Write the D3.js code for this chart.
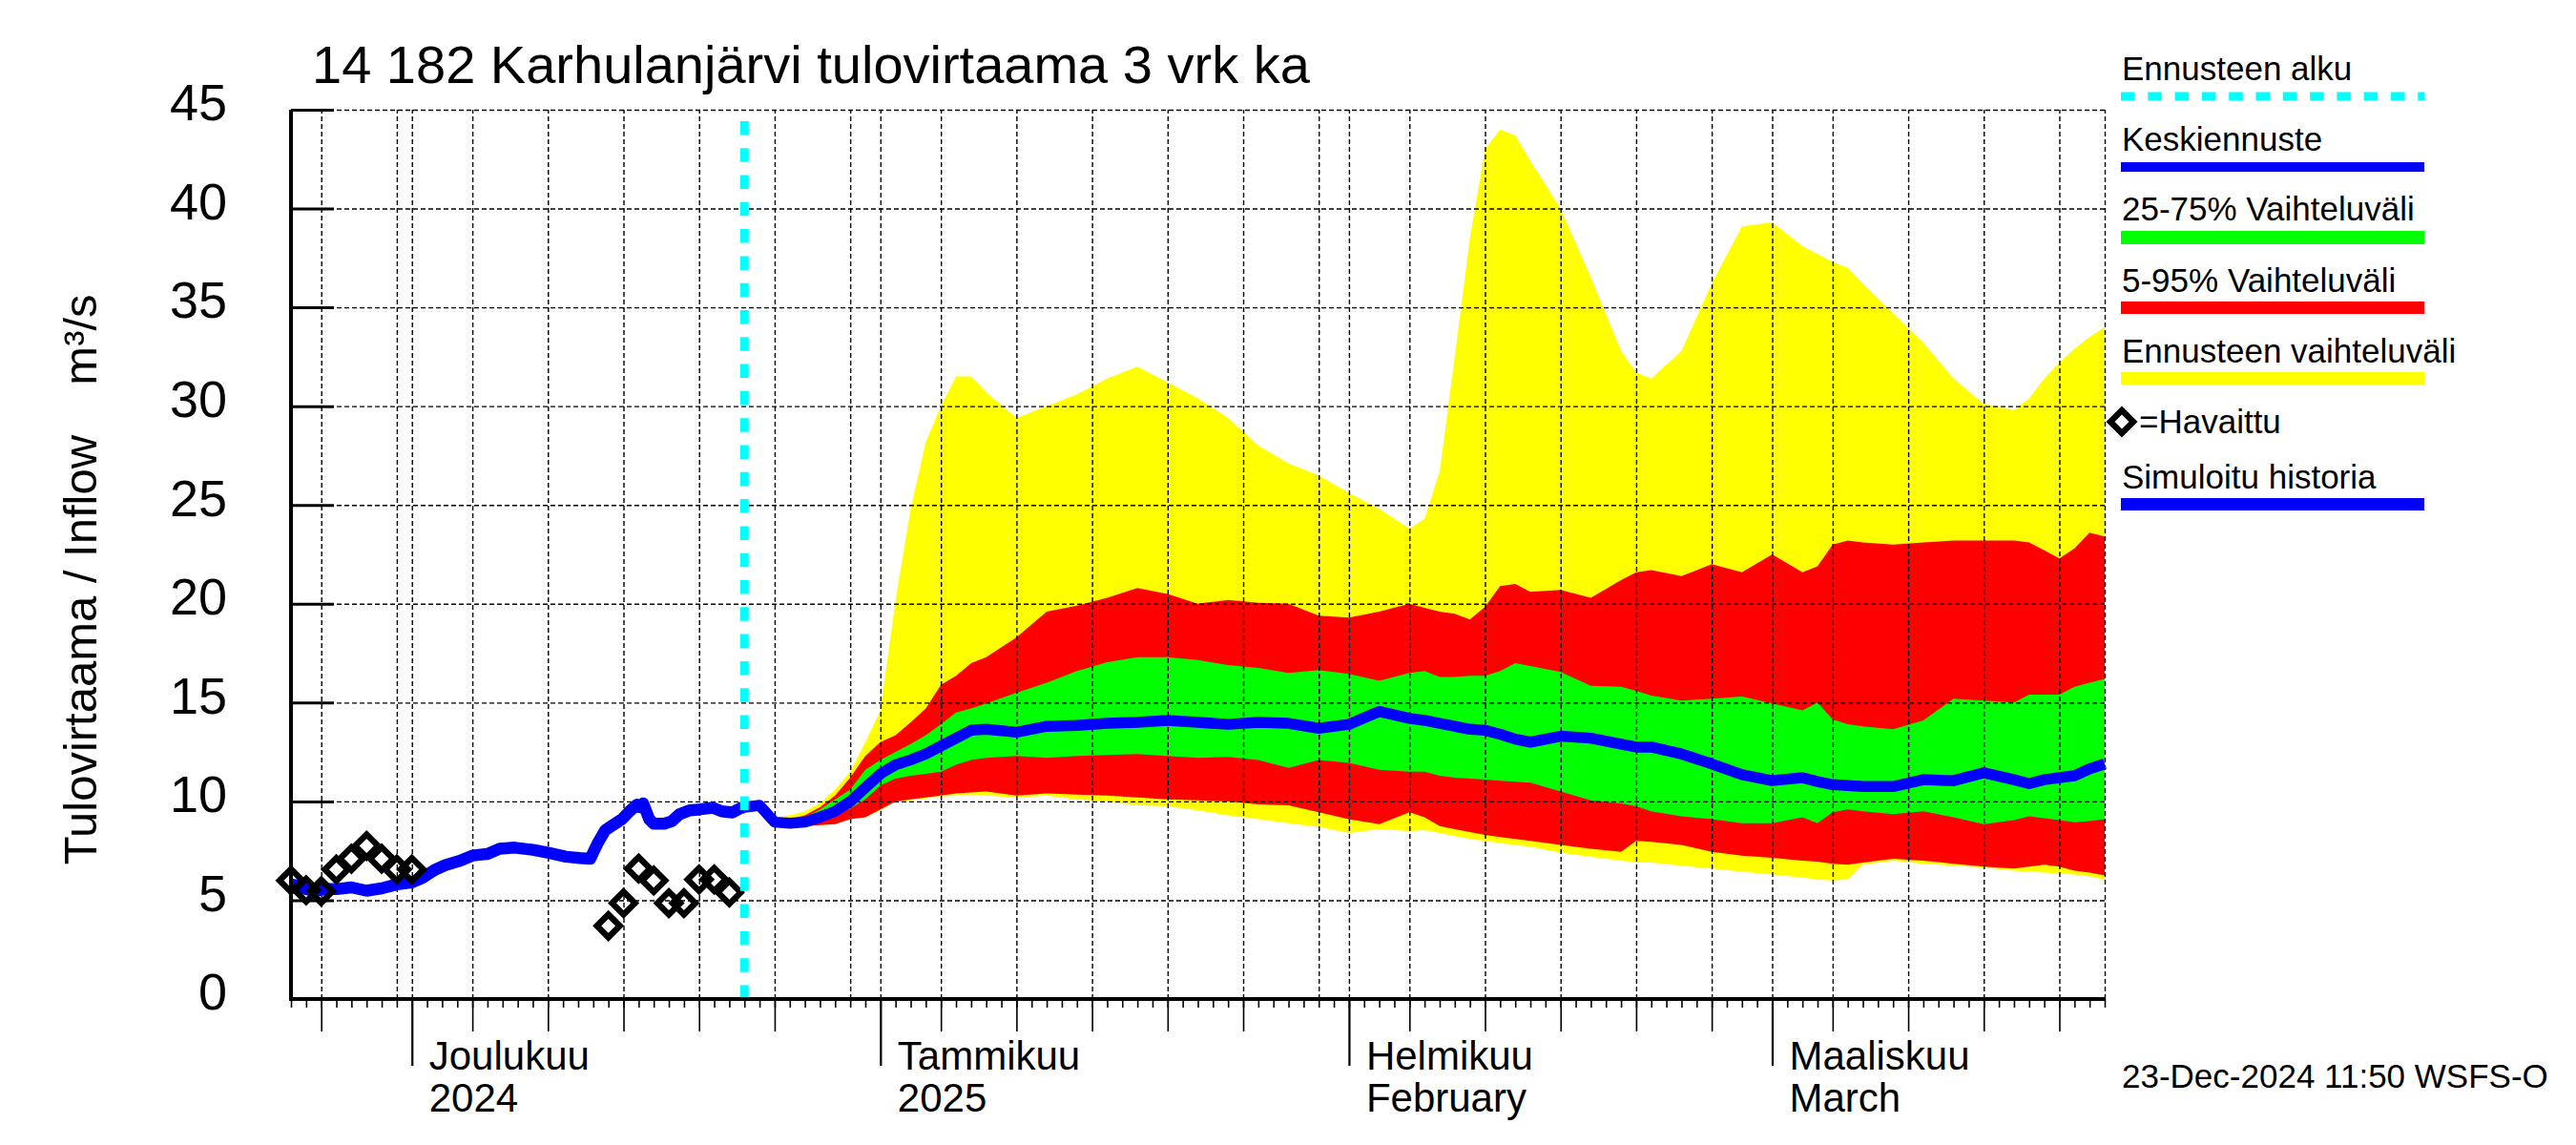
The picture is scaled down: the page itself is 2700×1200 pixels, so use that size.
<!DOCTYPE html>
<html><head><meta charset="utf-8">
<script src="https://cdn.jsdelivr.net/npm/d3@7"></script>
<style>
html,body{margin:0;padding:0;background:#fff;}
svg{display:block;}
text{font-family:"Liberation Sans",Arial,Helvetica,sans-serif;fill:#000;}
</style></head><body>
<svg id="chart" width="2700" height="1200"></svg>
<script>
// ---------- DATA ----------
const titleText = "14 182 Karhulanjärvi tulovirtaama 3 vrk ka";
const yTitle = "Tulovirtaama / Inflow";
const yUnit = "m³/s";
const stampText = "23-Dec-2024 11:50 WSFS-O";
const startDate = Date.UTC(2024, 10, 23);   // 23 Nov 2024
const totalDays = 120;
const forecastStartDay = 30;                 // 23 Dec 2024
const yTicks = [0, 5, 10, 15, 20, 25, 30, 35, 40, 45];
const monthDays = [8, 39, 70, 98];
const monthLabels = ["Joulukuu", "Tammikuu", "Helmikuu", "Maaliskuu"];
const monthLabels2 = ["2024", "2025", "February", "March"];

// observed (Havaittu)
const obsDays = [0,1,2,3,4,5,6,7,8,21,22,23,24,25,26,27,28,29];
const obsVals = [6.0,5.5,5.45,6.55,7.1,7.75,7.1,6.55,6.55,3.7,4.85,6.6,6.0,4.85,4.85,6.05,6.05,5.4];

// simulated history (Simuloitu historia)
const histDays = [0,0.5,1,1.5,2.5,3,4,5,6,7,8,8.7,9.5,10.2,11.2,12,13,13.8,14.8,16,17,18.2,19.1,19.8,20.3,20.8,21.3,21.9,22.4,22.9,23.1,23.3,23.7,24,24.7,25.2,25.7,26.4,27.1,27.9,28.5,29.2,29.8,30];
const histVals = [5.8,5.73,5.56,5.48,5.56,5.56,5.65,5.48,5.6,5.8,5.9,6.13,6.53,6.77,7.0,7.26,7.34,7.6,7.66,7.55,7.4,7.2,7.13,7.1,7.9,8.55,8.8,9.1,9.5,9.84,9.7,9.9,9.1,8.87,8.87,9.0,9.35,9.55,9.6,9.68,9.5,9.44,9.68,9.7];

// forecast
const fcDays = [30,31,32,33,34,35,36,37,38,39,40,41,42,43,44,45,46,48,50,52,54,56,58,60,62,64,66,68,70,72,74,75,76,77,78,79,80,81,82,84,86,88,89,90,92,94,96,98,100,101,102,103,104,106,108,110,112,114,115,116,117,118,119,120];
const fcMax = [9.7,9.85,9.2,9.3,9.5,9.9,10.6,11.5,13.0,14.6,20.2,24.8,28.2,30.0,31.5,31.5,30.7,
  29.4,30.0,30.6,31.4,32.0,31.2,30.4,29.4,28.0,27.1,26.5,25.6,24.8,23.8,
  24.3,26.7,32.5,38.5,43.0,44.0,43.7,42.4,40.0,36.5,32.8,31.7,31.4,
  32.8,36.2,39.1,39.3,38.1,37.7,37.3,37.0,36.2,
  34.7,33.2,31.4,30.1,29.8,30.4,31.4,32.2,32.9,33.5,34.0];
const fcP95 = [9.7,9.8,9.0,9.1,9.3,9.7,10.3,11.2,12.3,13.0,13.35,14.0,14.7,15.9,16.35,17.0,17.3,
  18.3,19.6,19.9,20.3,20.8,20.5,20.0,20.2,20.05,20.0,19.4,19.3,19.6,20.0,
  19.8,19.6,19.5,19.2,19.85,20.9,21.0,20.6,20.7,20.3,21.2,21.6,21.7,
  21.4,22.0,21.6,22.5,21.6,21.9,23.0,23.2,23.1,
  23.0,23.1,23.2,23.2,23.2,23.1,22.7,22.3,22.8,23.6,23.4];
const fcP75 = [9.7,9.8,8.95,9.0,9.2,9.6,10.1,10.6,11.6,12.1,12.5,12.9,13.35,13.9,14.5,14.7,14.95,
  15.5,16.0,16.6,17.05,17.3,17.3,17.15,16.9,16.75,16.5,16.65,16.45,16.1,16.5,
  16.6,16.3,16.3,16.35,16.35,16.6,17.0,16.85,16.55,15.85,15.8,15.6,15.35,
  15.1,15.2,15.3,14.95,14.6,15.0,14.15,13.9,13.8,
  13.65,14.1,15.2,15.1,15.0,15.4,15.4,15.4,15.8,16.0,16.2];
const fcMed = [9.7,9.8,8.95,8.9,8.95,9.2,9.5,10.0,10.7,11.4,11.85,12.1,12.4,12.8,13.2,13.6,13.65,
  13.5,13.8,13.85,13.95,14.0,14.1,14.0,13.9,14.0,13.95,13.7,13.9,14.55,14.2,
  14.1,13.95,13.8,13.65,13.6,13.4,13.15,13.0,13.3,13.2,12.9,12.75,12.75,
  12.4,11.9,11.35,11.05,11.2,11.0,10.85,10.8,10.75,
  10.75,11.1,11.05,11.45,11.1,10.9,11.1,11.2,11.3,11.65,11.9];
const fcP25 = [9.7,9.75,8.9,8.85,8.85,9.0,9.3,9.65,10.1,10.8,11.15,11.3,11.4,11.5,11.85,12.1,12.2,
  12.3,12.2,12.3,12.35,12.4,12.3,12.2,12.25,12.1,11.7,12.1,11.95,11.6,11.5,
  11.5,11.3,11.2,11.15,11.1,11.05,11.0,10.95,10.5,10.05,9.9,9.75,9.5,
  9.25,9.1,8.9,8.9,9.2,8.9,9.45,9.6,9.5,
  9.35,9.5,9.2,8.85,9.05,9.25,9.15,9.05,8.95,9.0,9.1];
const fcP05 = [9.7,9.7,8.8,8.75,8.75,8.8,8.85,9.1,9.2,9.6,10.0,10.1,10.2,10.3,10.4,10.45,10.5,
  10.3,10.4,10.35,10.3,10.2,10.1,10.05,10.0,9.85,9.8,9.45,9.1,8.85,9.45,
  9.2,8.75,8.6,8.45,8.3,8.2,8.1,8.0,7.8,7.6,7.45,8.0,7.95,
  7.8,7.45,7.25,7.15,7.0,6.95,6.85,6.8,6.9,
  7.1,7.0,6.85,6.7,6.6,6.7,6.8,6.7,6.5,6.4,6.25];
const fcMin = [9.7,9.7,8.7,8.7,8.7,8.8,8.85,9.1,9.2,9.55,10.0,10.05,10.15,10.25,10.3,10.35,10.3,
  10.2,10.3,10.1,10.0,9.8,9.75,9.55,9.3,9.1,8.9,8.7,8.4,8.6,8.5,
  8.55,8.4,8.25,8.1,8.0,7.9,7.8,7.7,7.4,7.2,7.0,6.9,6.9,
  6.75,6.6,6.45,6.3,6.15,6.05,6.0,6.05,6.8,
  7.0,6.85,6.75,6.65,6.5,6.45,6.4,6.35,6.3,6.2,6.05];

const legendLabels = ["Ennusteen alku","Keskiennuste","25-75% Vaihteluväli","5-95% Vaihteluväli","Ennusteen vaihteluväli","=Havaittu","Simuloitu historia"];

// ---------- LAYOUT ----------
const L = 305, R = 2206, T = 115, B = 1047;
const DAY = 86400000;
const toDate = d => new Date(startDate + d * DAY);
const svg = d3.select("#chart");
const x = d3.scaleUtc().domain([toDate(0), toDate(totalDays)]).range([L, R]);
const y = d3.scaleLinear().domain([0, 45]).range([B, T]);

const fc = fcDays.map((d, i) => ({d, max: fcMax[i], p95: fcP95[i], p75: fcP75[i], med: fcMed[i], p25: fcP25[i], p05: fcP05[i], min: fcMin[i]}));
const hist = histDays.map((d, i) => ({d, v: histVals[i]}));
const obs = obsDays.map((d, i) => ({d, v: obsVals[i]}));

const area = (lo, hi) => d3.area().x(p => x(toDate(p.d))).y0(p => y(p[lo])).y1(p => y(p[hi]));
svg.append("path").datum(fc).attr("d", area("min", "max")).attr("fill", "#ffff00");
svg.append("path").datum(fc).attr("d", area("p05", "p95")).attr("fill", "#ff0000");
svg.append("path").datum(fc).attr("d", area("p25", "p75")).attr("fill", "#00ff00");

// grid
const allDays = d3.range(0, totalDays + 1);
const gridDays = allDays.filter(d => { const dt = toDate(d); const dd = dt.getUTCDate(); return d > 0 && (dd === 1 || dd % 5 === 0); });
gridDays.push(totalDays);
const gx = svg.append("g").attr("transform", `translate(0,${B})`)
  .call(d3.axisBottom(x).tickValues(gridDays.map(toDate)).tickSize(-(B - T)).tickFormat(""));
gx.select(".domain").remove();
gx.selectAll("line").attr("stroke", "#000").attr("stroke-width", 1.4).attr("stroke-dasharray", "5,3");
const gy = svg.append("g").attr("transform", `translate(${L},0)`)
  .call(d3.axisLeft(y).tickValues(yTicks.filter(v => v > 0)).tickSize(-(R - L)).tickFormat(""));
gy.select(".domain").remove();
gy.selectAll("line").attr("stroke", "#000").attr("stroke-width", 1.4).attr("stroke-dasharray", "5,3");

// lines
const line = d3.line().x(p => x(toDate(p.d))).y(p => y(p.v));
svg.append("path").datum(hist).attr("d", line).attr("fill", "none").attr("stroke", "#0000ff").attr("stroke-width", 12.5).attr("stroke-linejoin", "round");
svg.append("path").datum(fc.map(p => ({d: p.d, v: p.med}))).attr("d", line).attr("fill", "none").attr("stroke", "#0000ff").attr("stroke-width", 11.5).attr("stroke-linejoin", "round");

// observations
const dia = r => `M0,${-r}L${r},0L0,${r}L${-r},0Z`;
svg.append("g").selectAll("path").data(obs).join("path")
  .attr("transform", p => `translate(${x(toDate(p.d))},${y(p.v)})`)
  .attr("d", dia(12)).attr("fill", "none").attr("stroke", "#000").attr("stroke-width", 6.4);

// forecast start line
svg.append("line").attr("x1", x(toDate(forecastStartDay))).attr("x2", x(toDate(forecastStartDay)))
  .attr("y1", B).attr("y2", T).attr("stroke", "#00ffff").attr("stroke-width", 9).attr("stroke-dasharray", "14.5,13.8");

// axes
const tickAxis = (days, size, w) => {
  const g = svg.append("g").attr("transform", `translate(0,${B})`)
    .call(d3.axisBottom(x).tickValues(days.map(toDate)).tickSize(size).tickFormat(""));
  g.select(".domain").remove();
  g.selectAll("line").attr("stroke", "#000").attr("stroke-width", w);
};
tickAxis(allDays, 9, 1.6);
tickAxis(allDays.filter(d => { const dd = toDate(d).getUTCDate(); return dd % 5 === 0 && dd !== 30; }), 34, 1.6);
tickAxis(monthDays, 70, 2.2);

const yt = svg.append("g").attr("transform", `translate(${L},0)`)
  .call(d3.axisRight(y).tickValues(yTicks).tickSize(45).tickFormat(""));
yt.select(".domain").remove();
yt.selectAll("line").attr("stroke", "#000").attr("stroke-width", 3);
const yl = svg.append("g").attr("transform", `translate(${L},0)`)
  .call(d3.axisLeft(y).tickValues(yTicks).tickSize(0).tickPadding(67));
yl.select(".domain").remove();
yl.selectAll("text").attr("font-size", 54).attr("dy", "0.2em").attr("font-family", "Liberation Sans, Arial, sans-serif");

svg.append("line").attr("x1", L).attr("x2", L).attr("y1", T).attr("y2", B + 2).attr("stroke", "#000").attr("stroke-width", 4);
svg.append("line").attr("x1", L - 2).attr("x2", R).attr("y1", B).attr("y2", B).attr("stroke", "#000").attr("stroke-width", 4);

// month labels
monthDays.forEach((d, i) => {
  const xx = x(toDate(d)) + 18;
  svg.append("text").attr("x", xx).attr("y", 1121).attr("font-size", 42).text(monthLabels[i]);
  svg.append("text").attr("x", xx).attr("y", 1165).attr("font-size", 42).text(monthLabels2[i]);
});

// title & axis title
svg.append("text").attr("x", 327).attr("y", 87).attr("font-size", 56).text(titleText);
svg.append("text").attr("transform", "translate(101,681) rotate(-90)").attr("text-anchor", "middle").attr("font-size", 49).text(yTitle);
svg.append("text").attr("transform", "translate(101,356) rotate(-90)").attr("text-anchor", "middle").attr("font-size", 49).text(yUnit);
svg.append("text").attr("x", 2224).attr("y", 1140).attr("font-size", 35).text(stampText);

// legend
const LX = 2224, LX2 = 2541;
const leg = svg.append("g");
const legBase = [84, 158, 231, 306, 380, 454, 512];
legendLabels.forEach((t, i) => {
  leg.append("text").attr("x", i === 5 ? 2242 : LX).attr("y", legBase[i]).attr("font-size", 35).text(t);
});
leg.append("line").attr("x1", LX - 1).attr("x2", LX2).attr("y1", 101).attr("y2", 101).attr("stroke", "#00ffff").attr("stroke-width", 9).attr("stroke-dasharray", "14.5,13.8");
leg.append("line").attr("x1", LX - 1).attr("x2", LX2).attr("y1", 175).attr("y2", 175).attr("stroke", "#0000ff").attr("stroke-width", 10);
leg.append("line").attr("x1", LX - 1).attr("x2", LX2).attr("y1", 249).attr("y2", 249).attr("stroke", "#00ff00").attr("stroke-width", 14);
leg.append("line").attr("x1", LX - 1).attr("x2", LX2).attr("y1", 322.5).attr("y2", 322.5).attr("stroke", "#ff0000").attr("stroke-width", 13);
leg.append("line").attr("x1", LX - 1).attr("x2", LX2).attr("y1", 396.5).attr("y2", 396.5).attr("stroke", "#ffff00").attr("stroke-width", 13);
leg.append("path").attr("transform", "translate(2224,442)").attr("d", dia(12)).attr("fill", "#fff").attr("stroke", "#000").attr("stroke-width", 6.4);
leg.append("line").attr("x1", LX - 1).attr("x2", LX2).attr("y1", 528.5).attr("y2", 528.5).attr("stroke", "#0000ff").attr("stroke-width", 13);
</script>
</body></html>
